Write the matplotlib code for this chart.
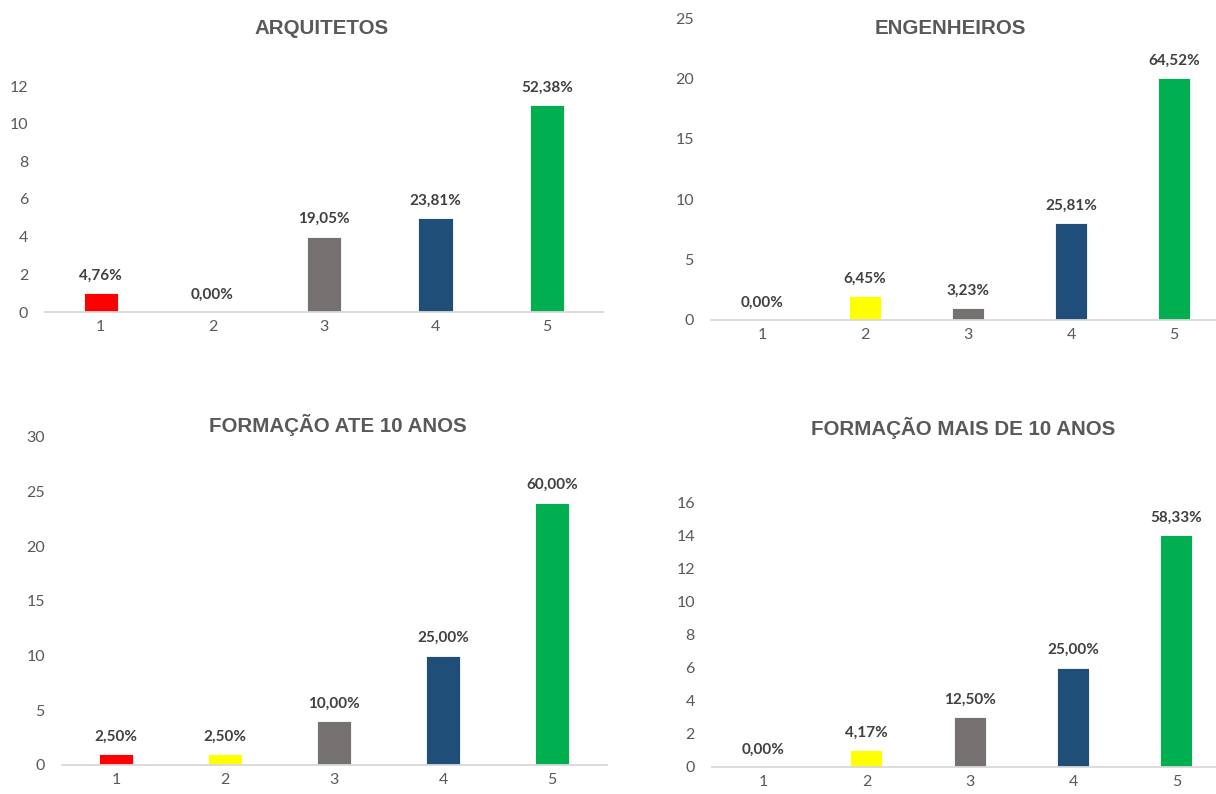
import matplotlib
matplotlib.use("Agg")
import matplotlib.pyplot as plt

# Answer scale 1..5 and the number of respondents for each answer
categories = ["1", "2", "3", "4", "5"]

arquitetos = [1, 0, 4, 5, 11]
engenheiros = [0, 2, 1, 8, 20]
formacao_ate_10 = [1, 1, 4, 10, 24]
formacao_mais_10 = [0, 1, 3, 6, 14]

titles = ["ARQUITETOS", "ENGENHEIROS", "FORMAÇÃO ATE 10 ANOS", "FORMAÇÃO MAIS DE 10 ANOS"]
y_limits = [12, 25, 30, 16]
y_steps = [2, 5, 5, 2]

bar_colors = ["#FF0000", "#FFFF00", "#767171", "#1F4E79", "#00B050"]

W, H = 1216, 794
fig = plt.figure(figsize=(W / 100, H / 100), dpi=100)
fig.patch.set_facecolor("white")


def px_axes(x0, x1, ytop, ybot):
    return fig.add_axes([x0 / W, 1 - ybot / H, (x1 - x0) / W, (ybot - ytop) / H])


panels = [
    (px_axes(45, 603, 86, 312), arquitetos, (322, 29)),
    (px_axes(710.5, 1225.5, 18, 320), engenheiros, (950, 29)),
    (px_axes(61.5, 606.5, 437, 765), formacao_ate_10, (338, 425)),
    (px_axes(711.5, 1228, 502, 767), formacao_mais_10, (963, 428)),
]

tick_font = "Lato"
label_color = "#595959"

for (ax, counts, (tx, ty)), title, ymax, step in zip(panels, titles, y_limits, y_steps):
    x = list(range(len(categories)))
    total = sum(counts)
    bars = ax.bar(x, counts, width=0.31, color=bar_colors, edgecolor="white", linewidth=0.6, zorder=2)
    for b, c in zip(bars, counts):
        pct = c / total * 100
        txt = f"{pct:.2f}%".replace(".", ",")
        ax.annotate(txt, (b.get_x() + b.get_width() / 2, c), xytext=(0, 7.5),
                    textcoords="offset points", ha="center", va="bottom",
                    fontsize=11, fontweight="bold", color="#404040",
                    fontfamily=tick_font)
    ax.set_xlim(-0.5, len(categories) - 0.5)
    ax.set_ylim(0, ymax)
    ax.set_yticks(range(0, ymax + 1, step))
    ax.set_xticks(x)
    ax.set_xticklabels(categories)
    for s in ["top", "right", "left"]:
        ax.spines[s].set_visible(False)
    ax.spines["bottom"].set_color("#D9D9D9")
    ax.spines["bottom"].set_linewidth(1.3)
    ax.spines["bottom"].set_zorder(3)
    ax.tick_params(axis="both", length=0, labelsize=11.5, labelcolor=label_color)
    ax.tick_params(axis="y", pad=12)
    ax.tick_params(axis="x", pad=6)
    for lab in ax.get_xticklabels() + ax.get_yticklabels():
        lab.set_fontfamily(tick_font)
    ax.set_facecolor("none")
    fig.text(tx / W, 1 - ty / H, title, ha="center", va="center",
             fontsize=14.8, fontweight="bold", color=label_color,
             fontfamily="Liberation Sans")

fig.savefig("out.png", dpi=100, facecolor="white")
